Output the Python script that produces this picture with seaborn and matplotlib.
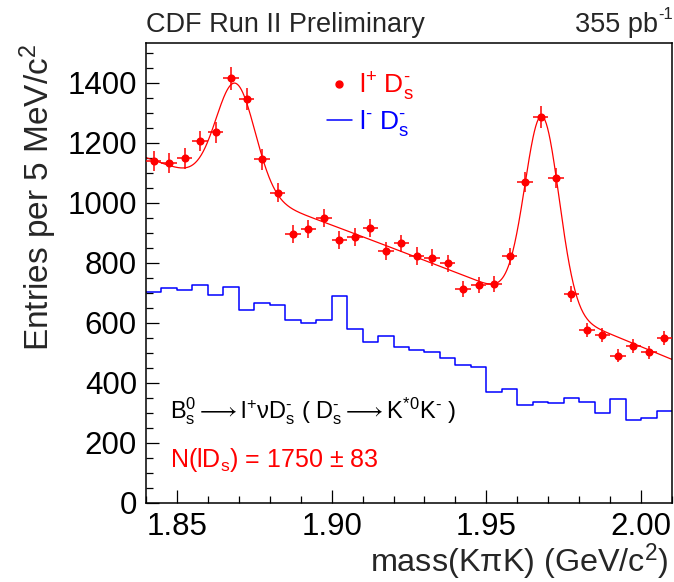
import numpy as np
import pandas as pd
import matplotlib
matplotlib.use("Agg")
import matplotlib.pyplot as plt
from matplotlib.lines import Line2D
from matplotlib.ticker import MultipleLocator, FormatStrFormatter
import seaborn as sns

# K pi K invariant mass: 5 MeV/c^2 bins from 1.84 to 2.01 GeV/c^2
bin_lo = 1.84
bin_width = 0.005
n_bins = 34

# right-sign l+ Ds- candidates per bin
right_sign = [1139, 1131, 1147, 1205, 1234, 1414, 1344, 1144, 1033, 894,
              911, 949, 875, 886, 914, 838, 864, 822, 816, 797,
              712, 725, 728, 821, 1069, 1286, 1081, 695, 576, 558,
              489, 521, 501, 547]

# wrong-sign l- Ds- candidates per bin
wrong_sign = [703, 716, 708, 724, 691, 720, 643, 664, 659, 609,
              599, 609, 687, 577, 536, 555, 519, 508, 503, 481,
              458, 453, 368, 378, 325, 334, 332, 348, 336, 297,
              346, 275, 281, 305]

# fit result: quadratic background + D+ and Ds Gaussian peaks
bkg_coef = [1150.0, -3636.0, -1898.0]   # in (m - 1.84)
dplus_mass, dplus_sigma, dplus_yield = 1.869, 0.0063, 1120
ds_mass, ds_sigma = 1.968, 0.0055
ds_yield, ds_yield_err = 1750, 83


def fit_model(m):
    t = m - bin_lo
    bkg = bkg_coef[0] + bkg_coef[1] * t + bkg_coef[2] * t ** 2
    norm = bin_width / np.sqrt(2 * np.pi)
    g1 = dplus_yield * norm / dplus_sigma * np.exp(-0.5 * ((m - dplus_mass) / dplus_sigma) ** 2)
    g2 = ds_yield * norm / ds_sigma * np.exp(-0.5 * ((m - ds_mass) / ds_sigma) ** 2)
    return bkg + g1 + g2


edges = bin_lo + bin_width * np.arange(n_bins + 1)
centers = edges[:-1] + bin_width / 2
df = pd.DataFrame({"mass": centers, "right": right_sign, "wrong": wrong_sign})
df["err"] = np.sqrt(df["right"])

sns.set_style("ticks")
plt.rcParams.update({
    "font.family": ["Liberation Sans", "DejaVu Sans"],
    "mathtext.fontset": "custom",
    "mathtext.rm": "Liberation Sans",
    "mathtext.it": "Liberation Sans:italic",
    "mathtext.bf": "Liberation Sans:bold",
    "mathtext.sf": "DejaVu Sans",
    "mathtext.default": "regular",
    "mathtext.fallback": "stixsans",
    "axes.linewidth": 1.1,
    "axes.edgecolor": "black",
})

HY = "\u2010"  # short hyphen for charge superscripts

fig = plt.figure(figsize=(6.74, 5.82), dpi=100)
ax = fig.add_axes([146 / 674, 1 - 502.5 / 582, 526 / 674, 459.5 / 582])

# wrong-sign histogram
sns.histplot(data=df, x="mass", weights="wrong", bins=[float(e) for e in edges],
             element="step", fill=False, color="blue", linewidth=1.1, ax=ax)

# right-sign data with errors
ax.errorbar(df["mass"], df["right"], xerr=bin_width / 2, yerr=df["err"],
            fmt="none", ecolor="red", elinewidth=1.1, zorder=3)
sns.scatterplot(data=df, x="mass", y="right", color="red", s=34,
                linewidth=0, ax=ax, zorder=4)

# fit curve
m_fine = np.linspace(bin_lo, bin_lo + n_bins * bin_width, 800)
sns.lineplot(x=m_fine, y=fit_model(m_fine), color="red", linewidth=0.9, ax=ax, zorder=2)

ax.set_xlim(bin_lo, bin_lo + n_bins * bin_width)
ax.set_ylim(0, 1532)
ax.xaxis.set_major_locator(MultipleLocator(0.05))
ax.xaxis.set_minor_locator(MultipleLocator(0.01))
ax.xaxis.set_major_formatter(FormatStrFormatter("%.2f"))
ax.yaxis.set_major_locator(MultipleLocator(200))
ax.yaxis.set_minor_locator(MultipleLocator(50))
ax.tick_params(which="both", direction="in", top=False, right=False,
               labelsize=22.5, width=0.9, color="black", labelcolor="black")
ax.tick_params(which="major", length=9.5, pad=6.5)
ax.tick_params(which="minor", length=5)
for s in ax.spines.values():
    s.set_visible(True)
    s.set_color("black")
ax.set_xlabel("")
ax.set_ylabel("")

fig.text(669 / 674, 1 - 572 / 582, r"mass(K$\pi$K) (GeV/c$^{2}$)", ha="right",
         va="baseline", fontsize=23.3)
fig.text(38 / 674, 1 - 44 / 582, r"Entries per 5 MeV/c$^{2}$", rotation=90,
         ha="center", va="top", fontsize=24)
fig.text(146 / 674, 1 - 32 / 582, "CDF Run II Preliminary", ha="left",
         va="baseline", fontsize=19.5)
fig.text(658 / 674, 1 - 32 / 582, "355 pb", ha="right",
         va="baseline", fontsize=19.5)
fig.text(658 / 674, 1 - 19 / 582, HY + "1", ha="left",
         va="baseline", fontsize=12)

# decay chain and signal yield
ax.text(1.8477, 282,
        r"B$_s^0\longrightarrow$l$^{+}\nu$D$_s^{" + HY + r"}$ ( D$_s^{" + HY +
        r"}\longrightarrow$K$^{*0}$K$^{" + HY + r"}$ )",
        fontsize=17, color="black", va="baseline")
ax.text(1.8477, 118, rf"N(lD$_s$) = {ds_yield} $\pm$ {ds_yield_err}",
        fontsize=18, color="red", va="baseline")

handles = [Line2D([], [], marker="o", color="red", linestyle="none", markersize=5),
           Line2D([], [], color="blue", linewidth=1.1)]
ax.legend(handles, [r"l$^{+}$ D$_s^{" + HY + r"}$", r"l$^{" + HY + r"}$ D$_s^{" + HY + r"}$"],
          loc="upper left", bbox_to_anchor=(0.344, 0.94), frameon=False,
          fontsize=19, handlelength=0.95, handletextpad=0.25,
          labelspacing=0.2, borderpad=0, borderaxespad=0,
          labelcolor=["red", "blue"])

fig.savefig("out.png", dpi=100)
